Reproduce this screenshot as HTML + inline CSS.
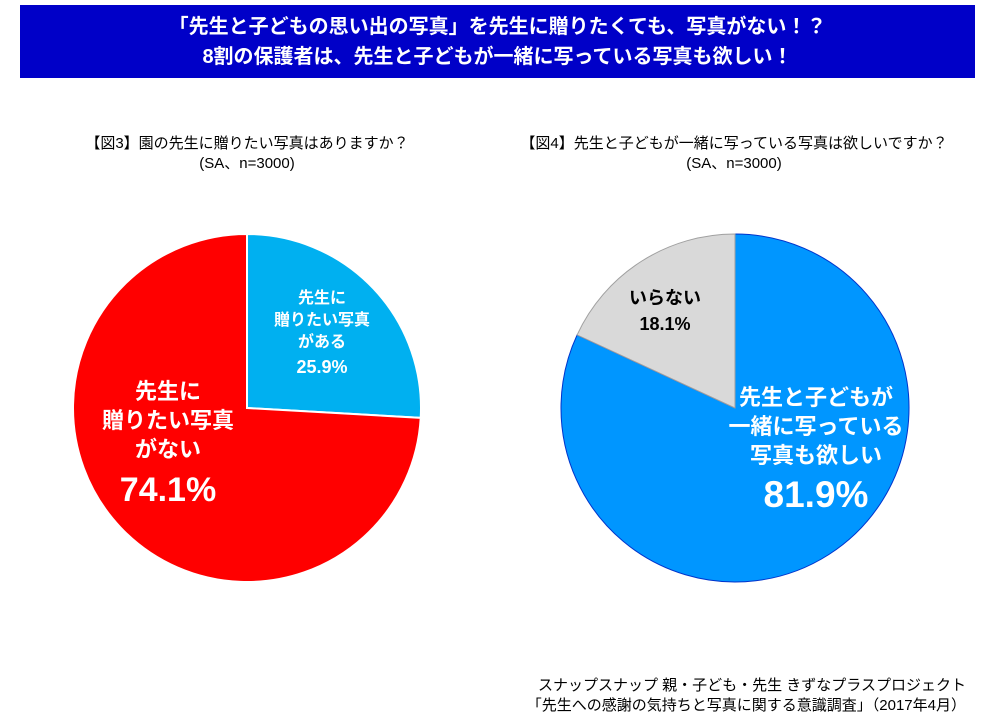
<!DOCTYPE html>
<html><head><meta charset="utf-8"><style>
body{margin:0;width:984px;height:724px;background:#fff;font-family:"Liberation Sans","Noto Sans CJK JP",sans-serif;overflow:hidden;position:relative}
.hdr{position:absolute;left:20px;top:5px;width:955px;height:73px;background:#0000c8;color:#fff;font-weight:bold;font-size:20px;text-align:center;line-height:30px;padding-top:7px;box-sizing:border-box}
.t{position:absolute;text-align:center;font-size:15px;line-height:20px;color:#000}
.src{position:absolute;right:18px;top:676px;text-align:right;font-size:15px;line-height:20px}
</style></head><body>
<div class="hdr">「先生と子どもの思い出の写真」を先生に贈りたくても、写真がない！？<br>8割の保護者は、先生と子どもが一緒に写っている写真も欲しい！</div>
<div class="t" style="left:47px;top:134px;width:400px">【図3】園の先生に贈りたい写真はありますか？<br>(SA、n=3000)</div>
<div class="t" style="left:514px;top:134px;width:440px">【図4】先生と子どもが一緒に写っている写真は欲しいですか？<br>(SA、n=3000)</div>
<svg id="svg" width="984" height="724" style="position:absolute;left:0;top:0"></svg>
<div class="src">スナップスナップ 親・子ども・先生 きずなプラスプロジェクト<br>「先生への感謝の気持ちと写真に関する意識調査」（2017年4月）</div>
<script>
const pie1Labels=["先生に|贈りたい写真|がある","先生に|贈りたい写真|がない"];
const pie1Values=[25.9,74.1];
const pie2Labels=["先生と子どもが|一緒に写っている|写真も欲しい","いらない"];
const pie2Values=[81.9,18.1];
const NS="http://www.w3.org/2000/svg";
const svg=document.getElementById('svg');
function mk(t,a){const e=document.createElementNS(NS,t);for(const k in a)e.setAttribute(k,a[k]);svg.appendChild(e);return e;}
function pt(cx,cy,r,f){const a=f*2*Math.PI;return [cx+r*Math.sin(a),cy-r*Math.cos(a)];}
function pie(cx,cy,r,vals,labels,colors,strokes,txt,name){
  const tot=vals.reduce((a,b)=>a+b,0);let acc=0;
  vals.forEach((v,i)=>{
    const f0=acc/tot,f1=(acc+v)/tot;acc+=v;
    const p0=pt(cx,cy,r,f0),p1=pt(cx,cy,r,f1);
    const big=(f1-f0)>0.5?1:0;
    const p=mk('path',{d:`M${cx},${cy}L${p0[0]},${p0[1]}A${r},${r} 0 ${big} 1 ${p1[0]},${p1[1]}Z`,fill:colors[i],stroke:strokes[i],'stroke-width':strokes[i]=='#fff'?2:1});
    
    
    const t=txt[i];
    const g=mk('text',{x:t.x,y:t.y,'text-anchor':'middle',fill:t.c,'font-weight':'bold','font-size':t.fs});
    
    
    const lines=labels[i].split('|');
    lines.forEach((l,j)=>{const s=document.createElementNS(NS,'tspan');s.setAttribute('x',t.x);s.setAttribute('dy',j?t.lh:0);s.textContent=l;g.appendChild(s);});
    const s=document.createElementNS(NS,'tspan');s.setAttribute('x',t.x);s.setAttribute('dy',t.plh);s.setAttribute('font-size',t.pfs);s.textContent=v.toFixed(1)+'%';g.appendChild(s);
  });
}
pie(247,408,174,pie1Values,pie1Labels,['#00b0f0','#ff0000'],['#fff','#fff'],
 [{x:322,y:303,c:'#fff',fs:16,lh:22,plh:26,pfs:18},{x:168,y:399,c:'#fff',fs:22,lh:29,plh:44,pfs:34}],'pie1');
pie(735,408,174,pie2Values,pie2Labels,['#0096ff','#d9d9d9'],['#0033cc','#a0a0a0'],
 [{x:816,y:405,c:'#fff',fs:22,lh:29,plh:44,pfs:37},{x:665,y:304,c:'#000',fs:18,lh:26,plh:26,pfs:18}],'pie2');
</script>
</body></html>
